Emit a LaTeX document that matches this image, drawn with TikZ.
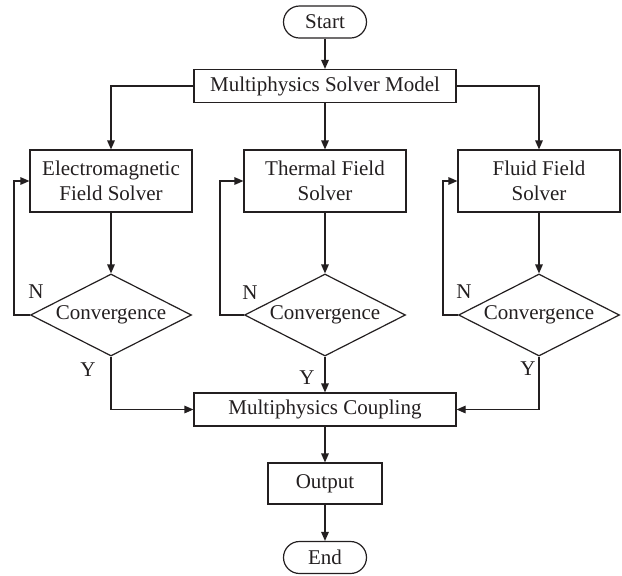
\documentclass[tikz,border=0pt]{standalone}
\usepackage{tikz}
\usepackage{fontspec}
\setmainfont{Liberation Serif}
\usetikzlibrary{shapes.geometric, arrows.meta, positioning, calc}
\definecolor{inkblack}{HTML}{231F20}

\begin{document}
\begin{tikzpicture}[
  x=0.5pt, y=-0.5pt,
  every node/.style={font=\fontsize{10.5}{12.5}\selectfont},
  terminal/.style={rectangle, draw=inkblack, line width=0.6pt, rounded corners=8pt, minimum width=41.5pt, minimum height=16pt, inner sep=0pt, text=inkblack},
  solver/.style={rectangle, draw=inkblack, line width=0.6pt, minimum width=81pt, minimum height=31pt, inner sep=0pt, align=center, text=inkblack},
  wide/.style={rectangle, draw=inkblack, line width=0.6pt, minimum width=131pt, minimum height=16.5pt, inner sep=0pt, text=inkblack},
  decision/.style={diamond, draw=inkblack, line width=0.6pt, aspect=2, minimum width=80.5pt, minimum height=41pt, inner sep=0pt, text=inkblack},
  lbl/.style={text=inkblack, inner sep=0pt},
  arrow/.style={-{Triangle[length=4.5pt, width=3.8pt]}, draw=inkblack, line width=0.6pt}
]
  \useasboundingbox (0, 0) rectangle (622, 575);

  % Main flow
  \node[terminal] (start) at (325, 22) {Start};
  \node[wide] (model) at (325, 86) {Multiphysics Solver Model};
  \node[wide] (coupling) at (325, 409.5) {Multiphysics Coupling};
  \node[solver, minimum width=57pt, minimum height=20.5pt] (output) at (325, 483.5) {Output};
  \node[terminal] (end) at (325, 557.5) {End};

  % Solvers
  \node[solver] (em) at (111, 181) {Electromagnetic\\Field Solver};
  \node[solver] (thermal) at (325, 181) {Thermal Field\\Solver};
  \node[solver] (fluid) at (539, 181) {Fluid Field\\Solver};

  % Convergence checks
  \node[decision] (emconv) at (111, 315) {Convergence};
  \node[decision] (thconv) at (325, 315) {Convergence};
  \node[decision] (flconv) at (539, 315) {Convergence};

  % Loop corners
  \coordinate (emloop) at (14, 315);
  \coordinate (thloop) at (220, 315);
  \coordinate (flloop) at (443, 315);

  % Labels
  \node[lbl] (emno) at (36, 292) {N};
  \node[lbl] (thno) at (250, 293) {N};
  \node[lbl] (flno) at (464, 292) {N};
  \node[lbl] (emyes) at (88, 370) {Y};
  \node[lbl] (thyes) at (307, 378) {Y};
  \node[lbl] (flyes) at (528, 369) {Y};

  % Arrows
  \draw[arrow] (start) -- (model);
  \draw[arrow] (model.west) -| (em.north);
  \draw[arrow] (model) -- (thermal);
  \draw[arrow] (model.east) -| (fluid.north);

  \draw[arrow] (em) -- (emconv);
  \draw[arrow] (thermal) -- (thconv);
  \draw[arrow] (fluid) -- (flconv);

  \draw[arrow] (emconv.west) -- (emloop) |- (em.west);
  \draw[arrow] (thconv.west) -- (thloop) |- (thermal.west);
  \draw[arrow] (flconv.west) -- (flloop) |- (fluid.west);

  \draw[arrow] (emconv.south) |- (coupling.west);
  \draw[arrow] (thconv) -- (coupling);
  \draw[arrow] (flconv.south) |- (coupling.east);

  \draw[arrow] (coupling) -- (output);
  \draw[arrow] (output) -- (end);
\end{tikzpicture}
\end{document}
